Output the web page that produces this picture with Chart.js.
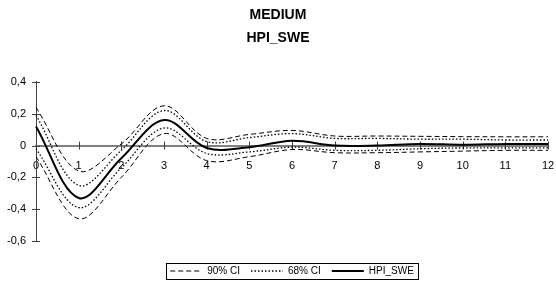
<!DOCTYPE html>
<html>
<head>
<meta charset="utf-8">
<script src="https://cdn.jsdelivr.net/npm/chart.js@4.4.1/dist/chart.umd.min.js"></script>
<style>
  html, body { margin: 0; padding: 0; background: #fff; }
</style>
</head>
<body>
<canvas id="irf" width="556" height="293"></canvas>
<script>
/* ── Data ── */
const horizons  = ['0','1','2','3','4','5','6','7','8','9','10','11','12'];
const hpiSwe    = [0.12, -0.33, -0.08, 0.16, -0.015, -0.01, 0.03, 0.0, 0.0, 0.01, 0.005, 0.01, 0.01];
const ci90Upper = [0.24, -0.16, 0.01, 0.25, 0.045, 0.07, 0.095, 0.06, 0.06, 0.058, 0.056, 0.055, 0.055];
const ci90Lower = [-0.07, -0.46, -0.20, 0.075, -0.095, -0.07, -0.025, -0.045, -0.045, -0.04, -0.035, -0.03, -0.03];
const ci68Upper = [0.19, -0.25, -0.03, 0.22, 0.025, 0.05, 0.075, 0.045, 0.045, 0.04, 0.04, 0.035, 0.035];
const ci68Lower = [-0.02, -0.39, -0.14, 0.11, -0.05, -0.04, -0.01, -0.03, -0.03, -0.02, -0.015, -0.015, -0.015];
const yMin = -0.6, yMax = 0.4, yStep = 0.2;

const FONT = "'Liberation Sans', Arial, sans-serif";

/* ── Excel style ticks that cross both axes ── */
const crossTicks = {
  id: 'crossTicks',
  beforeDatasetsDraw(chart) {
    const {ctx, scales: {x, y}} = chart;
    const x0 = chart.chartArea.left;
    const y0 = y.getPixelForValue(0);
    ctx.save();
    ctx.strokeStyle = '#404040';
    ctx.lineWidth = 1;
    ctx.beginPath();
    y.ticks.forEach(t => {
      const py = Math.round(y.getPixelForValue(t.value)) + 0.5;
      ctx.moveTo(x0 - 4, py); ctx.lineTo(x0 + 4, py);
    });
    x.ticks.forEach((t, i) => {
      const px = Math.round(x.getPixelForTick(i)) + 0.5;
      ctx.moveTo(px, y0 - 4); ctx.lineTo(px, y0 + 4);
    });
    ctx.stroke();
    ctx.restore();
  },
};

/* ── Legend placement + frame ── */
const legendFrame = {
  id: 'legendFrame',
  afterLayout(chart) {
    const lg = chart.legend;
    const h = lg.height;
    lg.top = 271 - 5 - lg.options.labels.padding;
    lg.bottom = lg.top + h;
  },
  afterDraw(chart) {
    const boxes = chart.legend.legendHitBoxes;
    if (!boxes || !boxes.length) return;
    const left = Math.min(...boxes.map(b => b.left));
    const right = Math.max(...boxes.map(b => b.left + b.width));
    const {ctx} = chart;
    ctx.save();
    ctx.strokeStyle = '#000';
    ctx.lineWidth = 1;
    ctx.setLineDash([]);
    ctx.strokeRect(Math.round(left - 4) + 0.5, 263.5, Math.round(right - left + 8), 16);
    ctx.restore();
  },
};

const line = (label, data, dash, width) => ({
  label, data,
  borderColor: '#000',
  backgroundColor: '#000',
  borderWidth: width,
  borderDash: dash,
  pointRadius: 0,
  pointHoverRadius: 0,
  tension: 0.35,
  fill: false,
});

new Chart(document.getElementById('irf').getContext('2d'), {
  type: 'line',
  data: {
    labels: horizons,
    datasets: [
      line('90% CI', ci90Upper, [5, 3], 1),
      line('90% CI', ci90Lower, [5, 3], 1),
      line('68% CI', ci68Upper, [1.5, 2], 1.3),
      line('68% CI', ci68Lower, [1.5, 2], 1.3),
      line('HPI_SWE', hpiSwe, [], 2),
    ],
  },
  options: {
    responsive: false,
    animation: false,
    devicePixelRatio: 1,
    layout: { padding: { left: 0, right: 0, top: 0, bottom: 21 } },
    plugins: {
      title: {
        display: true,
        text: ['MEDIUM', 'HPI_SWE'],
        color: '#000',
        font: { family: FONT, size: 14, weight: 'bold', lineHeight: 1.64 },
        padding: { top: 4, bottom: 32 },
      },
      legend: {
        position: 'bottom',
        fullSize: false,
        labels: {
          color: '#000',
          font: { family: FONT, size: 10 },
          usePointStyle: true,
          pointStyle: 'line',
          pointStyleWidth: 32,
          padding: 11,
          filter: item => [0, 2, 4].includes(item.datasetIndex),
          generateLabels: chart =>
            Chart.defaults.plugins.legend.labels.generateLabels(chart).map(it => {
              const ds = chart.data.datasets[it.datasetIndex];
              return { ...it, lineDash: ds.borderDash, lineWidth: ds.borderWidth, strokeStyle: '#000', fillStyle: '#000' };
            }),
        },
      },
      tooltip: { enabled: false },
    },
    scales: {
      x: {
        type: 'category',
        offset: false,
        position: { y: 0 },
        afterFit: s => { s.paddingLeft = 0; s.paddingRight = 8; },
        grid: { display: false, drawTicks: false },
        border: { color: '#808080', width: 2 },
        ticks: {
          color: '#000',
          font: { family: FONT, size: 11 },
          padding: 14,
          maxRotation: 0,
          autoSkip: false,
        },
      },
      y: {
        min: yMin,
        max: yMax,
        afterFit: s => { s.width = 36; },
        grid: { display: false, drawTicks: false },
        border: { color: '#404040', width: 1 },
        ticks: {
          stepSize: yStep,
          color: '#000',
          font: { family: FONT, size: 11 },
          padding: 10,
          callback: v => {
            const r = Math.round(v * 10) / 10;
            return r === 0 ? '0' : String(r).replace('.', ',');
          },
        },
      },
    },
  },
  plugins: [crossTicks, legendFrame],
});
</script>
</body>
</html>
